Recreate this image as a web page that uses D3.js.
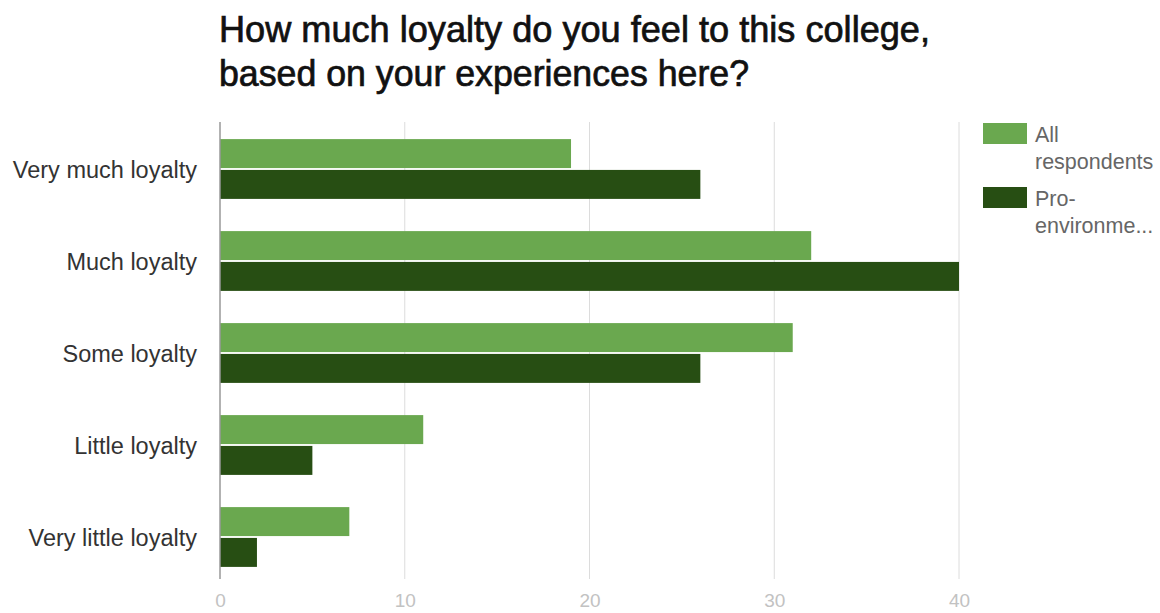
<!DOCTYPE html>
<html>
<head>
<meta charset="utf-8">
<script src="https://cdn.jsdelivr.net/npm/d3@7"></script>
<style>
  html, body { margin: 0; padding: 0; background: #fff; }
  svg { display: block; font-family: "Liberation Sans", Arial, sans-serif; }
</style>
</head>
<body>
<svg id="chart" width="1160" height="613"></svg>
<script>
// Survey answers, top to bottom
const categories = ["Very much loyalty", "Much loyalty", "Some loyalty", "Little loyalty", "Very little loyalty"];
const seriesNames = ["All respondents", "Pro-environme..."];
const allRespondents = [19, 32, 31, 11, 7];
const proEnvironmental = [26, 40, 26, 5, 2];
const tickValues = [0, 10, 20, 30, 40];
const colors = ["#6aa84f", "#274e13"];
const titleLines = ["How much loyalty do you feel to this college,", "based on your experiences here?"];

const svg = d3.select("#chart");
const plot = { left: 220, right: 959, top: 123, bottom: 583 };

const x = d3.scaleLinear().domain([0, 40]).range([plot.left, plot.right]);
const y = d3.scaleBand().domain(categories).range([plot.top, plot.bottom]).paddingInner(0.35).paddingOuter(0.175);
const inner = d3.scaleBand().domain([0, 1]).range([0, y.bandwidth()]).paddingInner(0.06);

// Title
svg.append("g").selectAll("text").data(titleLines).join("text")
  .attr("x", 219).attr("y", (d, i) => 42 + i * 44)
  .attr("font-size", 36).attr("fill", "#111")
  .attr("stroke", "#111").attr("stroke-width", 0.7)
  .attr("textLength", (d, i) => i === 0 ? 711 : 530)
  .attr("lengthAdjust", "spacingAndGlyphs")
  .text(d => d);

// Vertical gridlines
svg.append("g").selectAll("line").data(tickValues.slice(1)).join("line")
  .attr("x1", d => x(d)).attr("x2", d => x(d))
  .attr("y1", 122).attr("y2", 579)
  .attr("stroke", "#dcdcdc").attr("stroke-width", 1);

// Bars
const rows = categories.map((c, i) => ({ c, vals: [allRespondents[i], proEnvironmental[i]] }));
const groups = svg.append("g").selectAll("g").data(rows).join("g")
  .attr("transform", d => `translate(0,${y(d.c)})`);
groups.selectAll("rect").data(d => d.vals.map((v, k) => ({ v, k }))).join("rect")
  .attr("x", x(0))
  .attr("y", d => inner(d.k))
  .attr("width", d => x(d.v) - x(0))
  .attr("height", inner.bandwidth())
  .attr("fill", d => colors[d.k]);

// Baseline axis
svg.append("line")
  .attr("x1", x(0)).attr("x2", x(0)).attr("y1", 122).attr("y2", 579)
  .attr("stroke", "#999").attr("stroke-width", 1.5);

// Category labels
svg.append("g").selectAll("text").data(categories).join("text")
  .attr("x", 197).attr("y", d => y(d) + y.bandwidth() / 2 + 9)
  .attr("text-anchor", "end").attr("font-size", 23.5).attr("fill", "#333")
  .text(d => d);

// Bottom tick labels
const xAxis = d3.axisBottom(x).tickValues(tickValues).tickSize(0).tickPadding(0);
const ax = svg.append("g").attr("transform", "translate(0,607)").call(xAxis);
ax.select(".domain").remove();
ax.selectAll("text").attr("dy", 0).attr("font-size", 19).attr("fill", "#c2c2c2")
  .attr("font-family", "'Liberation Sans', Arial, sans-serif");

// Legend
const legendLines = [["All", "respondents"], ["Pro-", "environme..."]];
const lg = svg.append("g").selectAll("g").data(seriesNames).join("g")
  .attr("transform", (d, i) => `translate(983,${123 + i * 64})`);
lg.append("rect").attr("width", 44).attr("height", 21).attr("fill", (d, i) => colors[i]);
lg.selectAll("text").data((d, i) => legendLines[i]).join("text")
  .attr("x", 52).attr("y", (d, j) => 19 + j * 27)
  .attr("font-size", 21.5).attr("fill", "#666")
  .text(d => d);
</script>
</body>
</html>
